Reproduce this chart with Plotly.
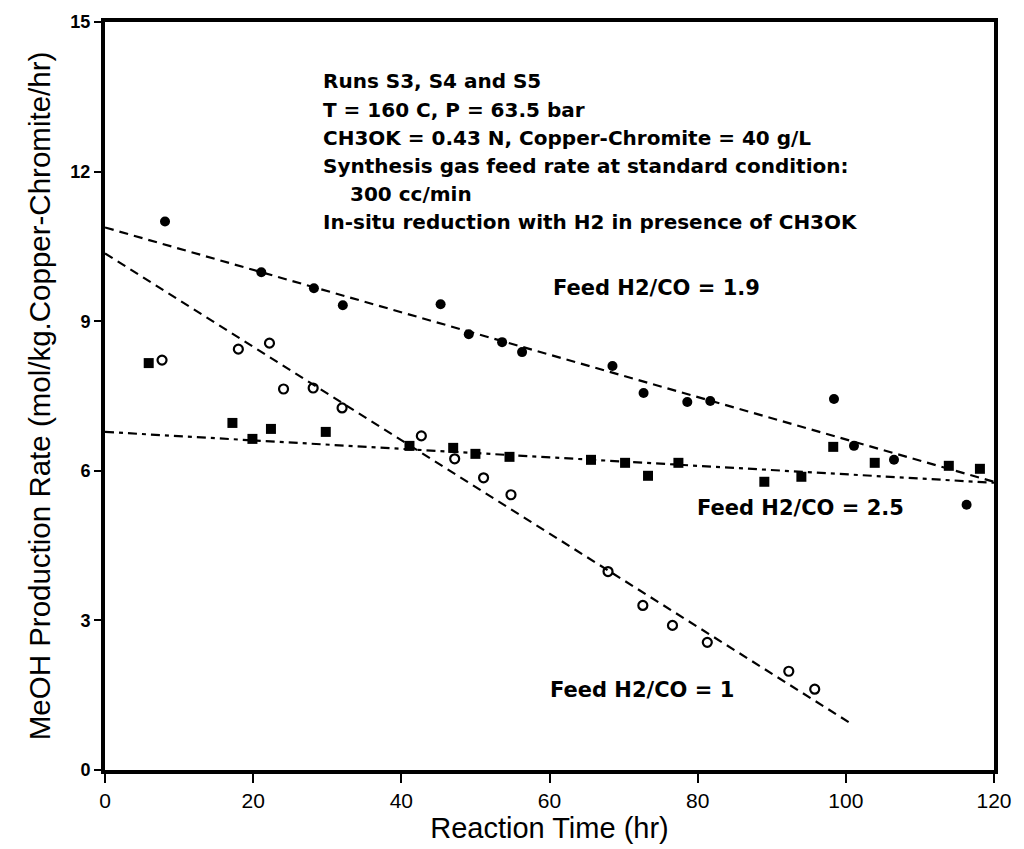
import plotly.graph_objects as go

# Feed H2/CO = 1.9 (filled circles)
t_19 = [8.1, 21.1, 28.2, 32.1, 45.3, 49.1, 53.6, 56.3, 68.5, 72.7, 78.6, 81.7, 98.4, 101.1, 106.5, 116.3]
r_19 = [11.0, 9.98, 9.66, 9.32, 9.34, 8.74, 8.58, 8.38, 8.1, 7.56, 7.38, 7.4, 7.44, 6.5, 6.22, 5.32]

# Feed H2/CO = 1 (open circles)
t_1 = [7.7, 18.0, 22.2, 24.1, 28.1, 32.0, 42.7, 47.2, 51.1, 54.8, 67.9, 72.6, 76.6, 81.3, 92.3, 95.8]
r_1 = [8.22, 8.44, 8.56, 7.64, 7.66, 7.26, 6.7, 6.24, 5.86, 5.52, 3.98, 3.3, 2.9, 2.56, 1.98, 1.62]

# Feed H2/CO = 2.5 (filled squares)
t_25 = [5.9, 17.2, 19.9, 22.4, 29.8, 41.1, 47.0, 50.0, 54.6, 65.6, 70.2, 73.3, 77.4, 89.0, 94.0, 98.3, 103.9, 113.9, 118.1]
r_25 = [8.16, 6.96, 6.64, 6.84, 6.78, 6.5, 6.46, 6.34, 6.28, 6.22, 6.16, 5.9, 6.16, 5.78, 5.88, 6.48, 6.16, 6.1, 6.04]

# trend lines (end points)
fit_19_x = [0, 120]
fit_19_y = [10.88, 5.78]
fit_1_x = [0, 100.5]
fit_1_y = [10.36, 0.95]
fit_25_x = [0, 120]
fit_25_y = [6.78, 5.76]

info_lines = [
    "Runs S3, S4 and S5",
    "T = 160 C, P = 63.5 bar",
    "CH3OK = 0.43 N, Copper-Chromite = 40 g/L",
    "Synthesis gas feed rate at standard condition:",
    "300 cc/min",
    "In-situ reduction with H2 in presence of CH3OK",
]
info_x = [29.2, 29.2, 29.2, 29.2, 32.8, 29.2]
info_y = [13.81, 13.23, 12.67, 12.11, 11.55, 10.98]

feed_labels = ["Feed H2/CO = 1.9", "Feed H2/CO = 2.5", "Feed H2/CO = 1"]
feed_x = [60.2, 79.7, 59.8]
feed_y = [9.67, 5.25, 1.61]

x_ticks = [0, 20, 40, 60, 80, 100, 120]
y_ticks = [0, 3, 6, 9, 12, 15]

fig = go.Figure()

dash_main = "9px,6px"
fig.add_trace(go.Scatter(x=fit_19_x, y=fit_19_y, mode="lines",
                         line=dict(color="black", width=2.2, dash=dash_main), showlegend=False))
fig.add_trace(go.Scatter(x=fit_1_x, y=fit_1_y, mode="lines",
                         line=dict(color="black", width=2.2, dash=dash_main), showlegend=False))
fig.add_trace(go.Scatter(x=fit_25_x, y=fit_25_y, mode="lines",
                         line=dict(color="black", width=2.2, dash="9px,5px,4px,5px"), showlegend=False))

fig.add_trace(go.Scatter(x=t_19, y=r_19, mode="markers",
                         marker=dict(symbol="circle", size=10, color="black"), showlegend=False))
fig.add_trace(go.Scatter(x=t_1, y=r_1, mode="markers",
                         marker=dict(symbol="circle-open", size=9, color="black",
                                     line=dict(width=2.2, color="black")), showlegend=False))
fig.add_trace(go.Scatter(x=t_25, y=r_25, mode="markers",
                         marker=dict(symbol="square", size=10, color="black"), showlegend=False))

text_font = dict(family="DejaVu Sans, Verdana, sans-serif", size=20, color="black")
for txt, xx, yy in zip(info_lines, info_x, info_y):
    fig.add_annotation(x=xx, y=yy, xref="x", yref="y", text="<b>" + txt + "</b>",
                       showarrow=False, xanchor="left", yanchor="middle", font=text_font)

feed_font = dict(family="DejaVu Sans, Verdana, sans-serif", size=21, color="black")
for txt, xx, yy in zip(feed_labels, feed_x, feed_y):
    fig.add_annotation(x=xx, y=yy, xref="x", yref="y", text="<b>" + txt + "</b>",
                       showarrow=False, xanchor="left", yanchor="middle", font=feed_font)

tick_font = dict(family="Liberation Sans, Arial, sans-serif", size=21, color="black")
title_font_x = dict(family="Liberation Sans, Arial, sans-serif", size=29, color="black")
title_font_y = dict(family="Liberation Sans, Arial, sans-serif", size=29.5, color="black")

fig.update_xaxes(range=[0, 120], tickvals=x_ticks, ticktext=[str(v) for v in x_ticks],
                 showgrid=False, zeroline=False, showline=True, linewidth=4, linecolor="black",
                 mirror=True, ticks="outside", ticklen=9, tickwidth=2, tickcolor="black",
                 tickfont=tick_font, title=dict(text="Reaction Time (hr)", font=title_font_x, standoff=4))
fig.update_yaxes(range=[0, 15], tickvals=y_ticks, ticktext=["<b>%d</b>" % v for v in y_ticks],
                 showgrid=False, zeroline=False, showline=True, linewidth=4, linecolor="black",
                 mirror=True, ticks="outside", ticklen=7, tickwidth=2, tickcolor="black",
                 tickfont=dict(family="Liberation Sans, Arial, sans-serif", size=18, color="black"),
                 title=dict(text="MeOH Production Rate (mol/kg.Copper-Chromite/hr)", font=title_font_y, standoff=12))

fig.update_layout(width=1024, height=849, margin=dict(l=105, r=22, t=22, b=73),
                  plot_bgcolor="white", paper_bgcolor="white")

fig.write_html("out.html")
